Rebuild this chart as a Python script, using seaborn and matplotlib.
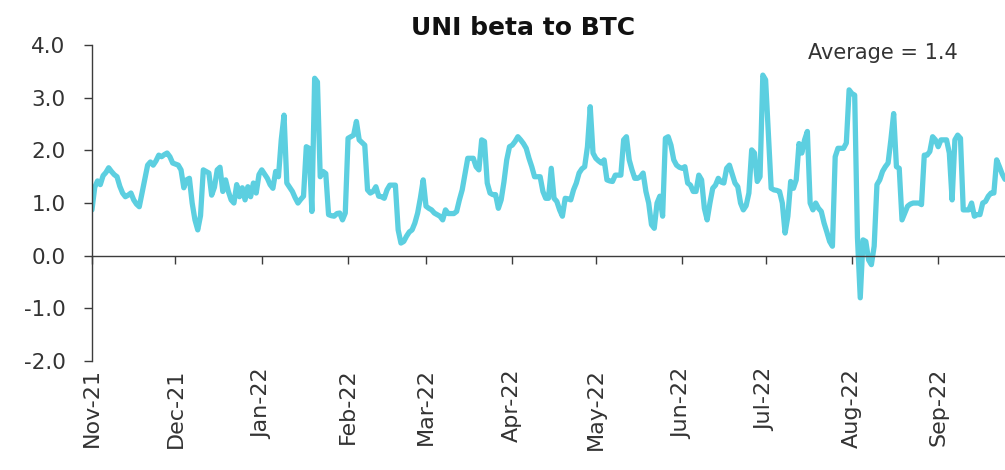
import pandas as pd
import matplotlib
matplotlib.use("Agg")
import matplotlib.pyplot as plt
import matplotlib.dates as mdates
import seaborn as sns

# Daily UNI beta to BTC (starts 1 Nov 2021)
start_date = "2021-11-01"
beta = [
    0.87, 1.30, 1.42, 1.35, 1.52, 1.58, 1.67, 1.60, 1.54, 1.50,
    1.32, 1.19, 1.12, 1.15, 1.19, 1.06, 0.98, 0.93, 1.19, 1.45,
    1.72, 1.78, 1.72, 1.80, 1.91, 1.88, 1.92, 1.95, 1.88, 1.76,
    1.74, 1.72, 1.63, 1.29, 1.44, 1.47, 1.00, 0.68, 0.49, 0.76,
    1.63, 1.60, 1.57, 1.15, 1.30, 1.63, 1.68, 1.22, 1.44, 1.22,
    1.06, 1.00, 1.35, 1.12, 1.29, 1.06, 1.31, 1.12, 1.38, 1.19,
    1.54, 1.63, 1.55, 1.47, 1.35, 1.28, 1.60, 1.50, 2.20, 2.67,
    1.38, 1.30, 1.22, 1.10, 1.00, 1.07, 1.13, 2.07, 2.04, 0.84,
    3.37, 3.30, 1.50, 1.60, 1.56, 0.78, 0.76, 0.75, 0.80, 0.81,
    0.68, 0.81, 2.23, 2.26, 2.29, 2.55, 2.20, 2.15, 2.10, 1.25,
    1.19, 1.22, 1.31, 1.13, 1.12, 1.09, 1.25, 1.34, 1.34, 1.34,
    0.49, 0.24, 0.27, 0.37, 0.45, 0.49, 0.62, 0.81, 1.10, 1.44,
    0.94, 0.90, 0.87, 0.81, 0.78, 0.75, 0.68, 0.87, 0.80, 0.80,
    0.80, 0.84, 1.06, 1.25, 1.55, 1.85, 1.85, 1.85, 1.69, 1.63,
    2.20, 2.17, 1.38, 1.19, 1.16, 1.16, 0.90, 1.06, 1.40, 1.82,
    2.07, 2.10, 2.17, 2.26, 2.20, 2.13, 2.04, 1.85, 1.69, 1.50,
    1.50, 1.50, 1.22, 1.09, 1.09, 1.66, 1.09, 1.03, 0.87, 0.75,
    1.09, 1.08, 1.06, 1.25, 1.38, 1.57, 1.65, 1.69, 2.07, 2.83,
    1.95, 1.85, 1.80, 1.76, 1.82, 1.44, 1.42, 1.41, 1.53, 1.53,
    1.53, 2.20, 2.26, 1.82, 1.63, 1.47, 1.47, 1.50, 1.57, 1.22,
    1.00, 0.59, 0.52, 1.00, 1.13, 0.75, 2.23, 2.26, 2.10, 1.82,
    1.72, 1.68, 1.66, 1.69, 1.38, 1.34, 1.22, 1.22, 1.53, 1.44,
    0.90, 0.68, 1.00, 1.28, 1.34, 1.47, 1.40, 1.38, 1.66, 1.72,
    1.55, 1.38, 1.31, 1.00, 0.87, 0.95, 1.19, 2.01, 1.95, 1.41,
    1.50, 3.43, 3.34, 2.32, 1.28, 1.25, 1.24, 1.22, 1.00, 0.43,
    0.75, 1.41, 1.28, 1.44, 2.13, 1.95, 2.20, 2.36, 1.00, 0.87,
    1.00, 0.90, 0.84, 0.62, 0.45, 0.27, 0.18, 1.88, 2.04, 2.04,
    2.04, 2.14, 3.15, 3.08, 3.05, 0.34, -0.80, 0.30, 0.27, -0.08,
    -0.17, 0.18, 1.35, 1.44, 1.60, 1.69, 1.76, 2.20, 2.70, 1.69,
    1.66, 0.68, 0.81, 0.94, 0.98, 1.00, 1.00, 1.00, 0.97, 1.91,
    1.91, 1.98, 2.26, 2.20, 2.07, 2.20, 2.20, 2.20, 1.95, 1.06,
    2.20, 2.29, 2.23, 0.87, 0.87, 0.87, 1.00, 0.75, 0.78, 0.78,
    1.00, 1.03, 1.13, 1.19, 1.19, 1.82, 1.69, 1.55, 1.45,
]
y_ticks = [-2, -1, 0, 1, 2, 3, 4]
title = "UNI beta to BTC"
avg_label = "Average = 1.4"

df = pd.DataFrame({
    "date": pd.date_range(start_date, periods=len(beta), freq="D"),
    "beta": beta,
})

sns.set_style("white")
plt.rcParams["font.family"] = ["DejaVu Sans"]
plt.rcParams["axes.unicode_minus"] = False

text_col = "#333333"
axis_col = "#3c3c3c"

fig = plt.figure(figsize=(10.05, 4.7), dpi=100)
ax = fig.add_axes([0.0915, 0.232, 0.9085, 0.672])

sns.lineplot(data=df, x="date", y="beta", color="#5ccfe0", linewidth=3.8,
             ax=ax, legend=False)
for ln in ax.get_lines():
    ln.set_solid_joinstyle("round")
    ln.set_solid_capstyle("round")

ax.set_ylim(-2, 4)
ax.set_xlim(df["date"].iloc[0], df["date"].iloc[-1])
ax.set_yticks(y_ticks)
ax.yaxis.set_major_formatter(plt.FormatStrFormatter("%.1f"))
ax.xaxis.set_major_locator(mdates.MonthLocator())
ax.xaxis.set_major_formatter(mdates.DateFormatter("%b-%y"))

ax.spines[["top", "right"]].set_visible(False)
ax.spines["bottom"].set_position(("data", 0))
for s in ["left", "bottom"]:
    ax.spines[s].set_color(axis_col)
    ax.spines[s].set_linewidth(1.0)

ax.tick_params(axis="y", left=True, direction="out", length=6, width=1.0,
               color=axis_col, labelsize=15.5, labelcolor=text_col, pad=13)
ax.tick_params(axis="x", bottom=True, direction="out", length=6, width=1.0,
               color=axis_col, labelsize=16, labelcolor=text_col, pad=75,
               labelrotation=90)
ax.set_xlabel("")
ax.set_ylabel("")

fig.text(0.52, 0.94, title, ha="center", va="center", fontsize=18,
         fontweight="bold", color="#111111")
fig.text(0.878, 0.887, avg_label, ha="center", va="center", fontsize=15,
         color=text_col)

fig.savefig("out.png", dpi=100)
